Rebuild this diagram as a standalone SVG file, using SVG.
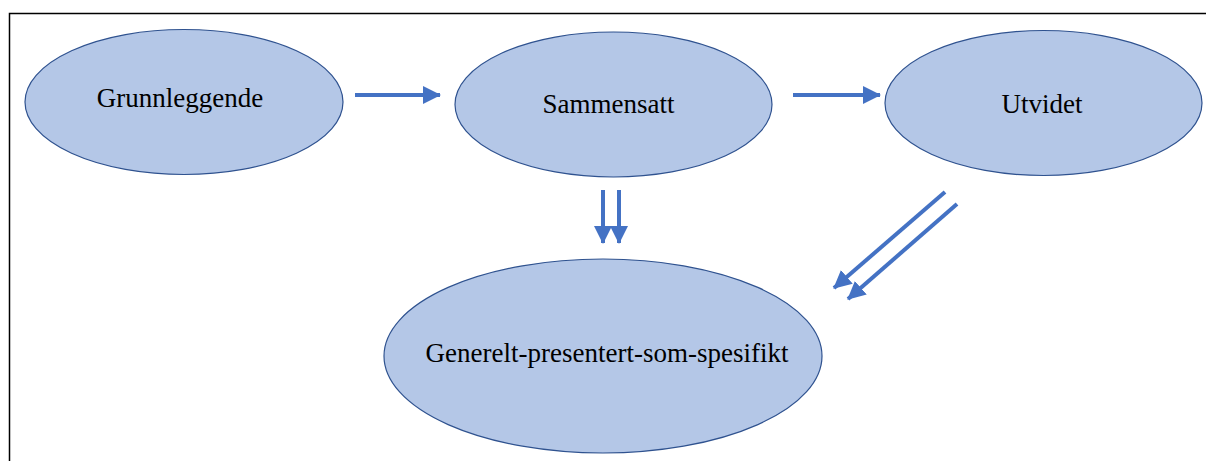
<svg xmlns="http://www.w3.org/2000/svg" width="1206" height="461" viewBox="0 0 1206 461">
<defs>
<style>
.node{fill:#B4C7E7;stroke:#2F528F;stroke-width:1.2}
.lbl{font-family:"Liberation Serif","Times New Roman",serif;font-size:27px;fill:#000;text-anchor:middle}
.conn{stroke:#4472C4;stroke-width:4;fill:none}
.frame{stroke:#000;stroke-width:1.5;fill:none}
</style>
<marker id="ah" markerUnits="userSpaceOnUse" markerWidth="18" markerHeight="18" viewBox="0 0 18 18" refX="17" refY="9" orient="auto">
<path d="M0,0 L18,9 L0,18 Z" fill="#4472C4"/>
</marker>
</defs>
<rect width="1206" height="461" fill="#fff"/>
<path class="frame" d="M9.5,461 L9.5,13.5 L1206,13.5"/>
<g id="n1"><ellipse class="node" cx="184" cy="102" rx="159" ry="72.5"/><text class="lbl" x="180" y="107">Grunnleggende</text></g>
<g id="n2"><ellipse class="node" cx="613.5" cy="104.5" rx="158.5" ry="72.5"/><text class="lbl" x="608.5" y="113">Sammensatt</text></g>
<g id="n3"><ellipse class="node" cx="1043.5" cy="103" rx="158.5" ry="72.5"/><text class="lbl" x="1042" y="113">Utvidet</text></g>
<g id="n4"><ellipse class="node" cx="603" cy="356" rx="219" ry="97"/><text class="lbl" x="607" y="362">Generelt-presentert-som-spesifikt</text></g>
<g id="connectors">
<line class="conn" x1="355" y1="95" x2="440" y2="95" marker-end="url(#ah)"/>
<line class="conn" x1="793" y1="95" x2="880" y2="95" marker-end="url(#ah)"/>
<line class="conn" x1="603" y1="190" x2="603" y2="243" marker-end="url(#ah)"/>
<line class="conn" x1="619" y1="190" x2="619" y2="243" marker-end="url(#ah)"/>
<line class="conn" x1="945" y1="192" x2="834" y2="288" marker-end="url(#ah)"/>
<line class="conn" x1="957" y1="204" x2="848" y2="299" marker-end="url(#ah)"/>
</g>
</svg>
